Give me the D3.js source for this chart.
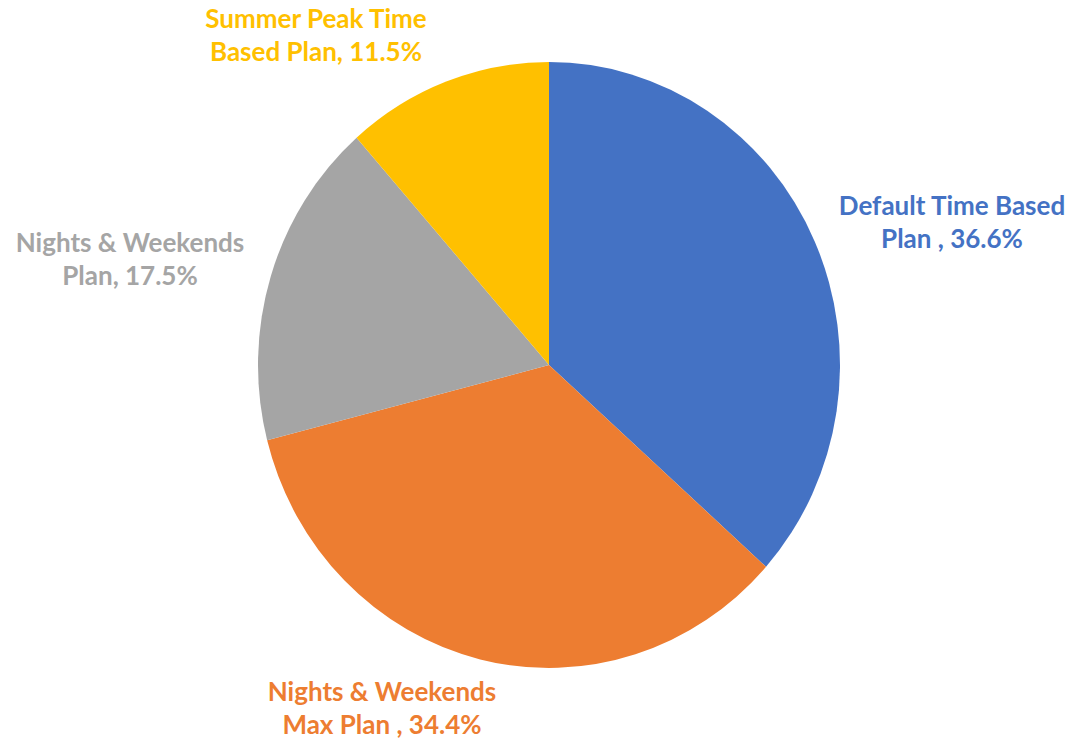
<!DOCTYPE html>
<html>
<head>
<meta charset="utf-8">
<script src="https://cdn.jsdelivr.net/npm/d3@7"></script>
<style>
  html, body { margin: 0; padding: 0; background: #ffffff; }
  svg { display: block; }
  text { font-family: Lato, "Open Sans", sans-serif; font-weight: 700; }
</style>
</head>
<body>
<svg id="chart" width="1069" height="741"></svg>
<script>
// Plan shares (percent), in clockwise order from 12 o'clock
const plans = ["Default Time Based", "Nights & Weekends Max", "Nights & Weekends", "Summer Peak Time Based"];
const shares = [36.6, 34.4, 17.5, 11.5];
const colors = ["#4472C4", "#ED7D31", "#A5A5A5", "#FFC000"];
// Two-line labels for each slice
const labelLines = [
  ["Default Time Based", "Plan , 36.6%"],
  ["Nights & Weekends", "Max Plan , 34.4%"],
  ["Nights & Weekends", "Plan, 17.5%"],
  ["Summer Peak Time", "Based Plan, 11.5%"]
];

const svg = d3.select("#chart");
const cx = 549, cy = 365;
const rx = 291, ry = 303;

const pie = d3.pie().sort(null).value(d => d.value).startAngle(0).endAngle(2 * Math.PI);
const data = plans.map((p, i) => ({ name: p, value: shares[i], color: colors[i], lines: labelLines[i] }));
const arcs = pie(data);

const arc = d3.arc().innerRadius(0).outerRadius(rx);

const g = svg.append("g")
  .attr("transform", `translate(${cx},${cy}) scale(1,${ry / rx})`);

g.selectAll("path")
  .data(arcs)
  .join("path")
  .attr("d", arc)
  .attr("fill", d => d.data.color);

// Label anchor points (centre x, first baseline y)
const labelPos = [
  [952, 215],
  [382, 701],
  [130, 252],
  [316, 28]
];
const lineGap = 32.5;

const labels = svg.selectAll("text.lbl")
  .data(arcs)
  .join("text")
  .attr("class", "lbl")
  .attr("text-anchor", "middle")
  .attr("font-size", 26)
  .attr("fill", d => d.data.color)
  .attr("x", (d, i) => labelPos[i][0])
  .attr("y", (d, i) => labelPos[i][1]);

labels.each(function (d, i) {
  d3.select(this).selectAll("tspan")
    .data(d.data.lines)
    .join("tspan")
    .attr("x", labelPos[i][0])
    .attr("dy", (t, j) => j === 0 ? 0 : lineGap)
    .text(t => t);
});
</script>
</body>
</html>
